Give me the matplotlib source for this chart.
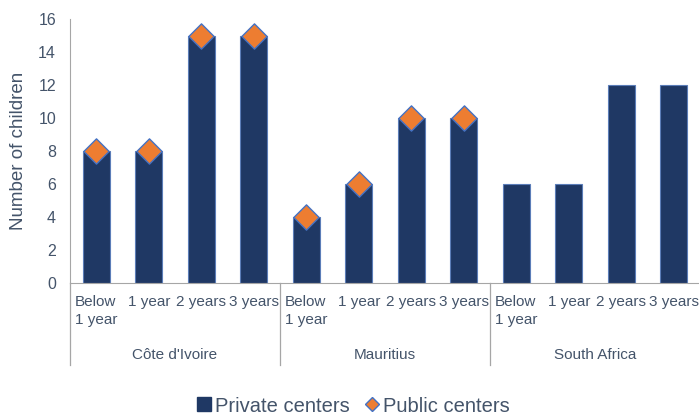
import matplotlib
matplotlib.use("Agg")
import matplotlib.pyplot as plt
import matplotlib.transforms as mtransforms
from matplotlib.lines import Line2D
import numpy as np

plt.rcParams['font.family'] = ['Liberation Sans', 'DejaVu Sans']

countries = ["Côte d'Ivoire", "Mauritius", "South Africa"]
ages = ["Below\n1 year", "1 year", "2 years", "3 years"]
private = [8, 8, 15, 15, 4, 6, 10, 10, 6, 6, 12, 12]
public = [8, 8, 15, 15, 4, 6, 10, 10, None, None, None, None]
yticks = [0, 2, 4, 6, 8, 10, 12, 14, 16]

txt = '#44546A'
bar_c = '#1F3864'
edge_c = '#4472C4'
org = '#ED7D31'

fig = plt.figure(figsize=(6.99, 4.16), dpi=100)
ax = fig.add_axes([70/699, (416-283)/416, 630/699, (283-19)/416])

x = np.arange(len(private))
ax.bar(x, private, width=0.52, color=bar_c, edgecolor='#5B7DB8', linewidth=0.8, zorder=2)
px = [xi for xi, v in zip(x, public) if v is not None]
pv = [v for v in public if v is not None]
ax.scatter(px, pv, marker='D', s=165, color=org, edgecolor=edge_c, linewidth=1.0, zorder=3)

ax.set_xlim(-0.5, len(private) - 0.5)
ax.set_ylim(0, 16)
ax.set_yticks(yticks)
ax.tick_params(axis='y', length=0, labelsize=11.5, labelcolor=txt, pad=10)
ax.set_xticks([])
for s in ['top', 'right']:
    ax.spines[s].set_visible(False)
ax.spines['left'].set_color('#A6A6A6')
ax.spines['bottom'].set_color('#A6A6A6')
ax.set_ylabel('Number of children', fontsize=13.5, color=txt, labelpad=8)

trans = mtransforms.blended_transform_factory(ax.transData, ax.transAxes)
ax_h = (283-19)
def yfrac(py):
    return (283 - py) / ax_h

for i in range(len(private)):
    ax.text(x[i], yfrac(295), ages[i % 4], transform=trans, ha='center', va='top',
            multialignment='left', fontsize=11, color=txt, linespacing=1.35)
for g, c in enumerate(countries):
    ax.text(g * 4 + 1.5, yfrac(355), c, transform=trans, ha='center', va='center',
            fontsize=11, color=txt)
for g in range(3):
    ax.plot([g * 4 - 0.5, g * 4 - 0.5], [0, yfrac(365)], transform=trans,
            color='#A6A6A6', linewidth=0.9, clip_on=False)

handles = [Line2D([], [], marker='s', linestyle='none', markersize=10, color=bar_c,
                  markeredgecolor=bar_c),
           Line2D([], [], marker='D', linestyle='none', markersize=7, color=org,
                  markeredgecolor=edge_c)]
leg = fig.legend(handles, ['Private centers', 'Public centers'], loc='center',
                 bbox_to_anchor=(352/699, (416-406)/416), ncol=2, frameon=False,
                 fontsize=14.5, handletextpad=0.05, columnspacing=0.6, handlelength=1.0)
for t in leg.get_texts():
    t.set_color(txt)

fig.savefig('out.png', dpi=100)
